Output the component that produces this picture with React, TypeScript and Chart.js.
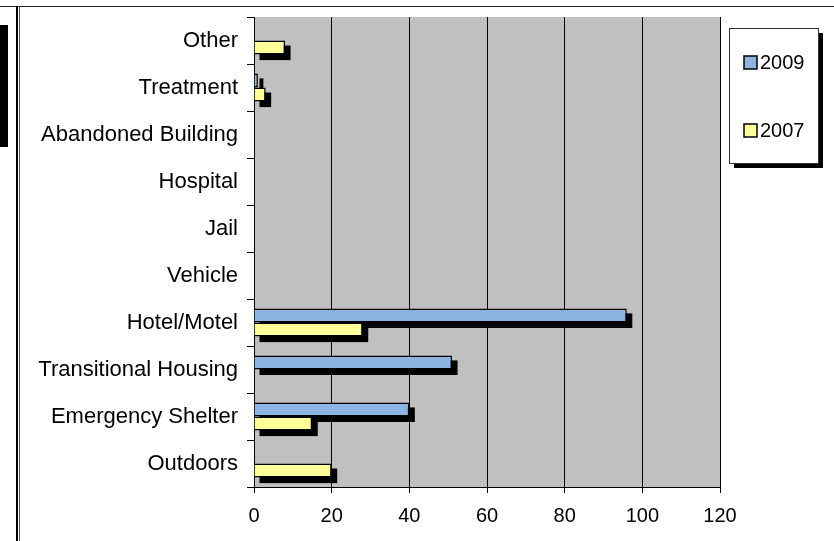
import React, { useEffect, useRef } from "react";
import { Chart, registerables } from "chart.js";

Chart.register(...registerables);

const categories = [
  "Other",
  "Treatment",
  "Abandoned Building",
  "Hospital",
  "Jail",
  "Vehicle",
  "Hotel/Motel",
  "Transitional Housing",
  "Emergency Shelter",
  "Outdoors",
];
const values2009 = [0, 1, 0, 0, 0, 0, 96, 51, 40, 0];
const values2007 = [8, 3, 0, 0, 0, 0, 28, 0, 15, 20];
const seriesLabels = ["2009", "2007"];
const seriesColors = ["#8DB4E3", "#FFFF99"];
const xTicks = [0, 20, 40, 60, 80, 100, 120];

const FONT = "'Liberation Sans', Arial, sans-serif";

const plotBg = {
  id: "plotBg",
  beforeDraw(chart: any) {
    const { ctx, chartArea: a } = chart;
    ctx.save();
    ctx.fillStyle = "#C0C0C0";
    ctx.fillRect(a.left, a.top, a.right - a.left, a.bottom - a.top);
    ctx.restore();
  },
};

const barShadow = {
  id: "barShadow",
  beforeDatasetsDraw(chart: any) {
    const { ctx } = chart;
    ctx.save();
    ctx.fillStyle = "#000";
    chart.data.datasets.forEach((_: any, i: number) => {
      const meta = chart.getDatasetMeta(i);
      if (meta.hidden) return;
      meta.data.forEach((bar: any, j: number) => {
        const v = chart.data.datasets[i].data[j];
        if (!v) return;
        const { x, y, base, height } = bar.getProps(["x", "y", "base", "height"], true);
        const l = Math.min(x, base);
        const r = Math.max(x, base);
        ctx.fillRect(l + 5, y - height / 2 + 5, r - l + 0.5, height + 0.5);
      });
    });
    ctx.restore();
  },
};

const boxLegend = {
  id: "boxLegend",
  afterDraw(chart: any) {
    const { ctx } = chart;
    const bx = 729, by = 28, bw = 89, bh = 135;
    ctx.save();
    ctx.fillStyle = "#000";
    ctx.fillRect(bx + 5, by + 5, bw, bh);
    ctx.fillStyle = "#fff";
    ctx.fillRect(bx, by, bw, bh);
    ctx.strokeStyle = "#333";
    ctx.lineWidth = 1;
    ctx.strokeRect(bx + 0.5, by + 0.5, bw, bh);
    const ys = [62.5, 130.5];
    chart.data.datasets.forEach((ds: any, i: number) => {
      const cy = ys[i];
      ctx.fillStyle = ds.backgroundColor;
      ctx.fillRect(744, cy - 6.5, 13, 13);
      ctx.strokeStyle = "#000";
      ctx.lineWidth = 1.5;
      ctx.strokeRect(744, cy - 6.5, 13, 13);
      ctx.fillStyle = "#000";
      ctx.font = `20px ${FONT}`;
      ctx.textBaseline = "middle";
      ctx.textAlign = "left";
      ctx.fillText(ds.label, 760, cy + 1);
    });
    ctx.restore();
  },
};

export default function App() {
  const ref = useRef<HTMLCanvasElement | null>(null);

  useEffect(() => {
    if (!ref.current) return;
    const chart = new Chart(ref.current, {
      type: "bar",
      data: {
        labels: categories,
        datasets: [
          {
            label: seriesLabels[0],
            data: values2009,
            backgroundColor: seriesColors[0],
            borderColor: "#000",
            borderWidth: 1.5,
            categoryPercentage: 0.6,
            barPercentage: 1.0,
          },
          {
            label: seriesLabels[1],
            data: values2007,
            backgroundColor: seriesColors[1],
            borderColor: "#000",
            borderWidth: 1.5,
            categoryPercentage: 0.6,
            barPercentage: 1.0,
          },
        ],
      },
      options: {
        indexAxis: "y",
        animation: false,
        responsive: true,
        maintainAspectRatio: false,
        layout: { padding: { top: 17, right: 114, bottom: 0, left: 0 } },
        plugins: {
          legend: { display: false },
          tooltip: { enabled: false },
        },
        scales: {
          x: {
            min: 0,
            max: 120,
            afterBuildTicks: (scale: any) => {
              scale.ticks = xTicks.map((v) => ({ value: v }));
            },
            afterFit: (scale: any) => {
              scale.height = 54;
            },
            ticks: {
              color: "#000",
              font: { family: FONT, size: 20 },
              padding: 11,
              maxRotation: 0,
            },
            grid: {
              color: "#000",
              lineWidth: 1,
              tickLength: 6,
              drawTicks: true,
            },
            border: { display: true, color: "#000", width: 1 },
          },
          y: {
            afterFit: (scale: any) => {
              scale.width = 254;
              scale.paddingTop = 0;
              scale.paddingBottom = 0;
            },
            ticks: {
              color: "#000",
              font: { family: FONT, size: 22 },
              padding: 9,
              autoSkip: false,
            },
            grid: {
              drawOnChartArea: false,
              color: "#000",
              lineWidth: 1,
              tickLength: 7,
              offset: true,
            },
            border: { display: true, color: "#000", width: 1 },
          },
        },
      },
      plugins: [plotBg, barShadow, boxLegend],
    });
    return () => chart.destroy();
  }, []);

  return (
    <div
      style={{
        position: "fixed",
        left: 0,
        top: 0,
        width: 834,
        height: 541,
        background: "#fff",
        overflow: "hidden",
      }}
    >
      <div style={{ position: "absolute", left: 0, top: 6, width: 834, height: 1, background: "#222" }} />
      <div style={{ position: "absolute", left: 0, top: 25, width: 8, height: 122, background: "#000" }} />
      <div style={{ position: "absolute", left: 16, top: 6, width: 2, height: 535, background: "#000" }} />
      <div style={{ position: "absolute", left: 19, top: 6, width: 1, height: 535, background: "#555" }} />
      <div style={{ position: "absolute", left: 0, top: 0, width: 834, height: 541 }}>
        <canvas ref={ref} />
      </div>
    </div>
  );
}
